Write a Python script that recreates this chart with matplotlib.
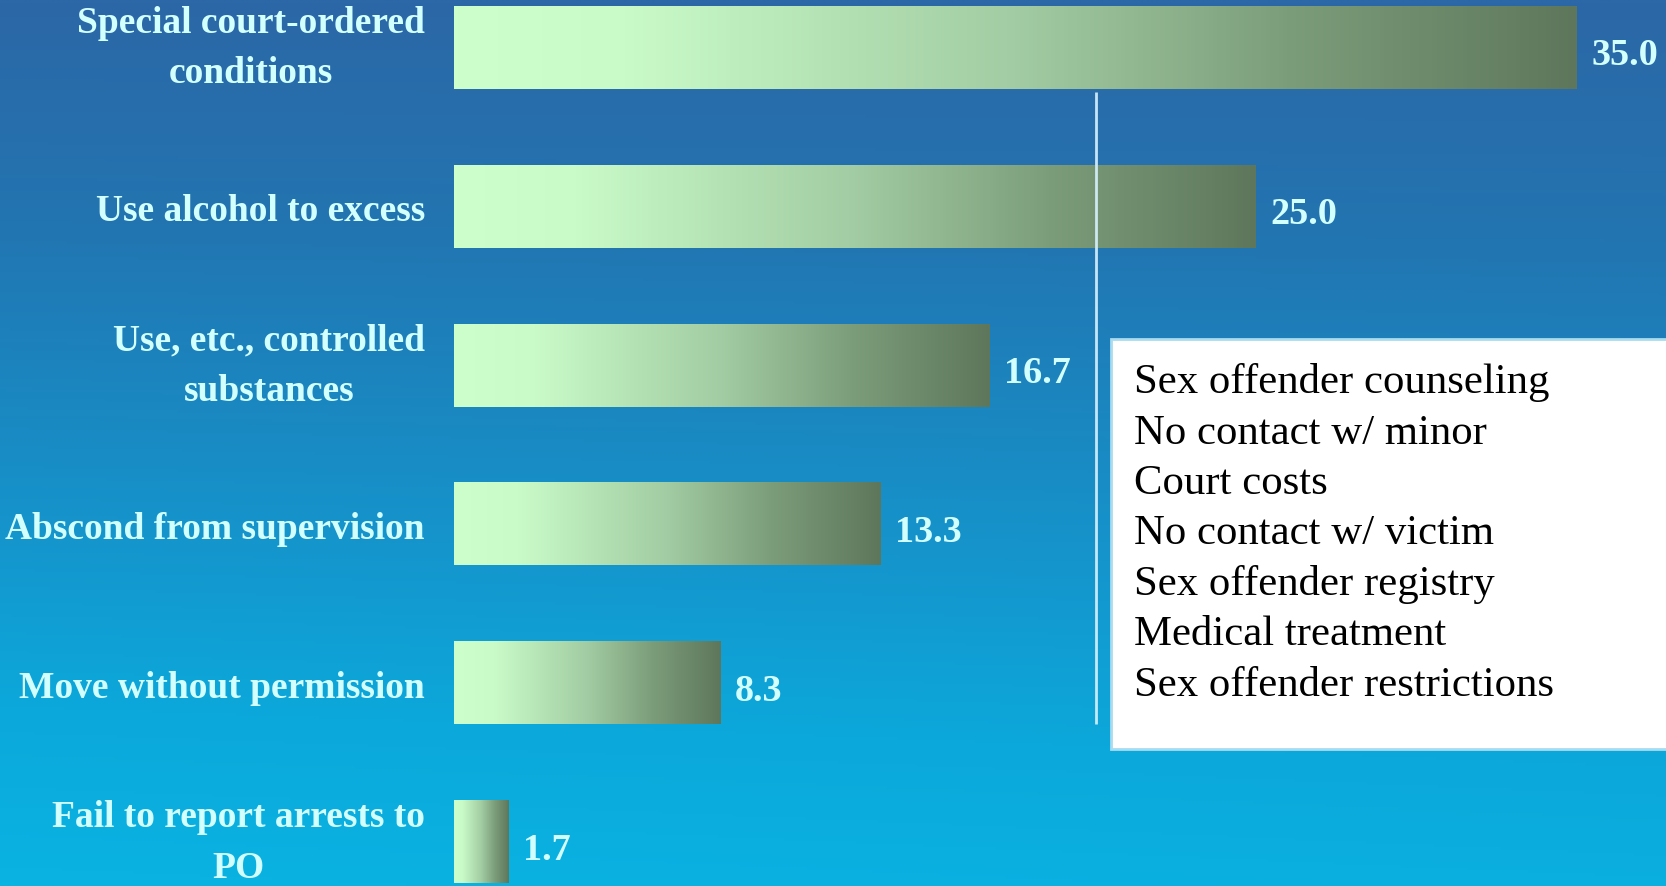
import numpy as np
import matplotlib
matplotlib.use("Agg")
import matplotlib.pyplot as plt
from matplotlib.colors import LinearSegmentedColormap
from matplotlib.patches import Rectangle

# chart data
categories = [
    "Special court-ordered\nconditions",
    "Use alcohol to excess",
    "Use, etc., controlled\nsubstances",
    "Abscond from supervision",
    "Move without permission",
    "Fail to report arrests to\nPO",
]
values = [35.0, 25.0, 16.7, 13.3, 8.3, 1.7]
box_lines = [
    "Sex offender counseling",
    "No contact w/ minor",
    "Court costs",
    "No contact w/ victim",
    "Sex offender registry",
    "Medical treatment",
    "Sex offender restrictions",
]

W, H = 1666, 887
fig = plt.figure(figsize=(W / 100, H / 100), dpi=100)

# background gradient (dark blue top -> bright cyan bottom)
bg = fig.add_axes([0, 0, 1, 1], zorder=0)
bg_cmap = LinearSegmentedColormap.from_list(
    "bg", [(0.0, "#2c67a7"), (0.25, "#2275b1"), (0.55, "#1790c8"),
           (0.8, "#0ca8db"), (1.0, "#09b3e2")])
yy = np.linspace(0, 1, 300)[:, None]
xx = np.linspace(0, 1, 300)[None, :]
grad = yy - 0.08 * xx * yy
bg.imshow(grad, cmap=bg_cmap, aspect="auto", extent=[0, 1, 0, 1],
          origin="upper", vmin=0, vmax=1)
bg.set_axis_off()

# bar axes
px_per_unit = 32.08
left_px = 454
ax = fig.add_axes([left_px / W, 0, 1 - left_px / W, 1], zorder=1)
ax.patch.set_alpha(0)
ax.set_xlim(0, (W - left_px) / px_per_unit)
ax.set_ylim(5.277, -0.305)

bar_cmap = LinearSegmentedColormap.from_list(
    "bar", [(0.0, "#ccffcc"), (0.15, "#c9fbc8"), (0.5, "#a2cca3"),
            (0.75, "#7b9c79"), (1.0, "#5e775c")])
grad_row = np.linspace(0, 1, 256)[None, :]
bh = 0.52
for i, v in enumerate(values):
    ax.imshow(grad_row, cmap=bar_cmap, aspect="auto",
              extent=[0, v, i + bh / 2, i - bh / 2], zorder=2)
    ax.text(v + 0.45, i + 0.02, f"{v:.1f}", va="center_baseline", ha="left",
            fontsize=27.5, fontweight="bold", family="Liberation Serif",
            color="#d2ffff", zorder=3)

# connector line from first bar to the box region
ax.vlines(20, bh / 2 + 0.02, 4 + bh / 2, colors="#d8f2ff", lw=2, alpha=0.9, zorder=4)

ax.set_yticks(range(len(categories)))
ax.set_yticklabels(categories, fontsize=27, fontweight="bold",
                   family="Liberation Serif", color="#d2ffff",
                   multialignment="center", linespacing=1.58)
for t in ax.get_yticklabels():
    if "\n" in t.get_text():
        t.set_va("center")
ax.tick_params(axis="y", length=0, pad=21)
ax.set_xticks([])
for s in ax.spines.values():
    s.set_visible(False)

# white note box
fig.patches.append(Rectangle((1111 / W, 1 - 750 / H), 0.4, 410 / H,
                             transform=fig.transFigure, facecolor="white",
                             edgecolor="#a8dcf0", lw=2, zorder=5))
fig.text(1134 / W, 1 - 534 / H, "\n".join(box_lines), ha="left", va="center",
         fontsize=30.8, family="Liberation Serif", color="black",
         linespacing=1.40, zorder=6)

fig.savefig("out.png", dpi=100)
